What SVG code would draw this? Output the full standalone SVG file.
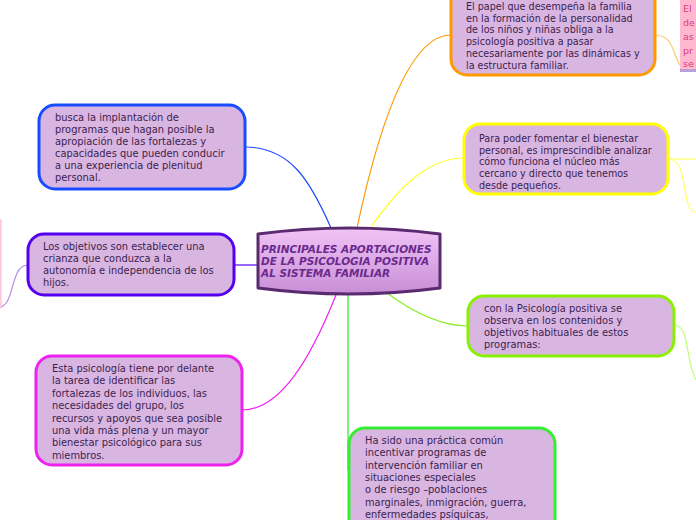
<svg xmlns="http://www.w3.org/2000/svg" width="696" height="520" viewBox="0 0 696 520">
<defs>
<linearGradient id="cg" x1="0" y1="0" x2="0" y2="1">
<stop offset="0" stop-color="#f0c4f6"/>
<stop offset="1" stop-color="#c88ed6"/>
</linearGradient>
</defs>
<style>
.n{fill:#d9b5e1;stroke-width:3}
.t{font-family:"DejaVu Sans",Verdana,sans-serif;font-size:9.6px;fill:#3b1f4f}
.u{font-family:"DejaVu Sans",Tahoma,sans-serif;font-size:9.9px;fill:#3b1f4f}
.c{fill:none;stroke-width:1.2}
</style>
<rect width="696" height="520" fill="#ffffff"/>
<g id="connectors">
<path class="c" stroke="#1a4cff" d="M331,228 C310,180 290,147 245,147"/>
<path class="c" stroke="#ff9900" d="M357,228 C380,120 410,35 451,35"/>
<path class="c" stroke="#ffff22" d="M371,227 C400,185 430,158 464,158"/>
<path class="c" stroke="#5500ee" d="M257,265 L234,265"/>
<path class="c" stroke="#ee22ee" d="M336,295 C310,360 280,410 242,410"/>
<path class="c" stroke="#22ee22" d="M348,295 L348,470"/>
<path class="c" stroke="#88ee22" d="M387,293 C410,310 440,326 468,326"/>
<path class="c" stroke="#ffcc66" d="M655,35 C680,35 670,70 690,70"/>
<path class="c" stroke="#ffff66" d="M668,159 L696,159"/>
<path class="c" stroke="#ffff66" d="M668,159 C690,159 680,212 696,212"/>
<path class="c" stroke="#bbff77" d="M674,325 C690,325 685,360 696,380"/>
<path class="c" stroke="#b48ee6" d="M28,265 C10,265 15,305 0,307"/>
</g>
<g id="pink-right">
<rect x="680" y="-10" width="30" height="80" fill="#ffb8d0"/>
<rect x="680" y="69" width="30" height="3" fill="#b9a0d6"/>
<text font-family="DejaVu Sans,sans-serif" font-size="9.5" fill="#d8407a"><tspan x="683" y="12">El</tspan><tspan x="683" y="26">de</tspan><tspan x="683" y="40">as</tspan><tspan x="683" y="54">pr</tspan><tspan x="683" y="67">se</tspan></text>
</g>
<g id="pink-left">
<rect x="-10" y="220" width="11" height="88" fill="#ffd6e4" stroke="#ffb8d0" stroke-width="1"/>
</g>
<g id="orange">
<rect class="n" stroke="#ff9900" x="451" y="-20" width="204" height="95" rx="16"/>
<text class="t"><tspan x="466" y="10">El papel que desempeña la familia</tspan><tspan x="466" y="21.7">en la formación de la personalidad</tspan><tspan x="466" y="33.4">de los niños y niñas obliga a la</tspan><tspan x="466" y="45.1">psicología positiva a pasar</tspan><tspan x="466" y="56.8">necesariamente por las dinámicas y</tspan><tspan x="466" y="68.5">la estructura familiar.</tspan></text>
</g>
<g id="yellow">
<rect class="n" stroke="#ffff00" x="464" y="124" width="204" height="70" rx="16"/>
<text class="t"><tspan x="479" y="142">Para poder fomentar el bienestar</tspan><tspan x="479" y="153.7">personal, es imprescindible analizar</tspan><tspan x="479" y="165.4">cómo funciona el núcleo más</tspan><tspan x="479" y="177.1">cercano y directo que tenemos</tspan><tspan x="479" y="188.8">desde pequeños.</tspan></text>
</g>
<g id="lime">
<rect class="n" stroke="#88f000" x="468" y="296" width="206" height="60" rx="16"/>
<text class="u"><tspan x="484" y="312">con la Psicología positiva se</tspan><tspan x="484" y="324">observa en los contenidos y</tspan><tspan x="484" y="336">objetivos habituales de estos</tspan><tspan x="484" y="348">programas:</tspan></text>
</g>
<g id="green">
<rect class="n" stroke="#33ee33" x="349" y="428" width="206" height="120" rx="16"/>
<text class="u"><tspan x="365" y="444">Ha sido una práctica común</tspan><tspan x="365" y="456.3">incentivar programas de</tspan><tspan x="365" y="468.6">intervención familiar en</tspan><tspan x="365" y="480.9">situaciones especiales</tspan><tspan x="365" y="493.2">o de riesgo –poblaciones</tspan><tspan x="365" y="505.5">marginales, inmigración, guerra,</tspan><tspan x="365" y="517.8">enfermedades psíquicas,</tspan></text>
</g>
<g id="blue">
<rect class="n" stroke="#1a4cff" x="39" y="105" width="206" height="84" rx="16"/>
<text class="u"><tspan x="55" y="121">busca la implantación de</tspan><tspan x="55" y="133">programas que hagan posible la</tspan><tspan x="55" y="145">apropiación de las fortalezas y</tspan><tspan x="55" y="157">capacidades que pueden conducir</tspan><tspan x="55" y="169">a una experiencia de plenitud</tspan><tspan x="55" y="181">personal.</tspan></text>
</g>
<g id="purple">
<rect class="n" stroke="#5500ee" x="28" y="234" width="206" height="61" rx="16"/>
<text class="u"><tspan x="43" y="250">Los objetivos son establecer una</tspan><tspan x="43" y="262">crianza que conduzca a la</tspan><tspan x="43" y="274">autonomía e independencia de los</tspan><tspan x="43" y="286">hijos.</tspan></text>
</g>
<g id="magenta">
<rect class="n" stroke="#ee22ee" x="36" y="356" width="206" height="109" rx="16"/>
<text class="u"><tspan x="52" y="372">Esta psicología tiene por delante</tspan><tspan x="52" y="384.4">la tarea de identificar las</tspan><tspan x="52" y="396.8">fortalezas de los individuos, las</tspan><tspan x="52" y="409.2">necesidades del grupo, los</tspan><tspan x="52" y="421.6">recursos y apoyos que sea posible</tspan><tspan x="52" y="434">una vida más plena y un mayor</tspan><tspan x="52" y="446.4">bienestar psicológico para sus</tspan><tspan x="52" y="458.8">miembros.</tspan></text>
</g>
<g id="central">
<path d="M258,234 Q349,222 440,234 L440,288 Q349,300 258,288 Z" fill="url(#cg)" stroke="#5a2a6e" stroke-width="3" stroke-linejoin="round"/>
<text font-family="DejaVu Sans,Verdana,sans-serif" font-size="10.5" font-weight="bold" font-style="italic" fill="#6a2a8c"><tspan x="261" y="253">PRINCIPALES APORTACIONES</tspan><tspan x="261" y="265">DE LA PSICOLOGIA POSITIVA</tspan><tspan x="261" y="277">AL SISTEMA FAMILIAR</tspan></text>
</g>
</svg>
